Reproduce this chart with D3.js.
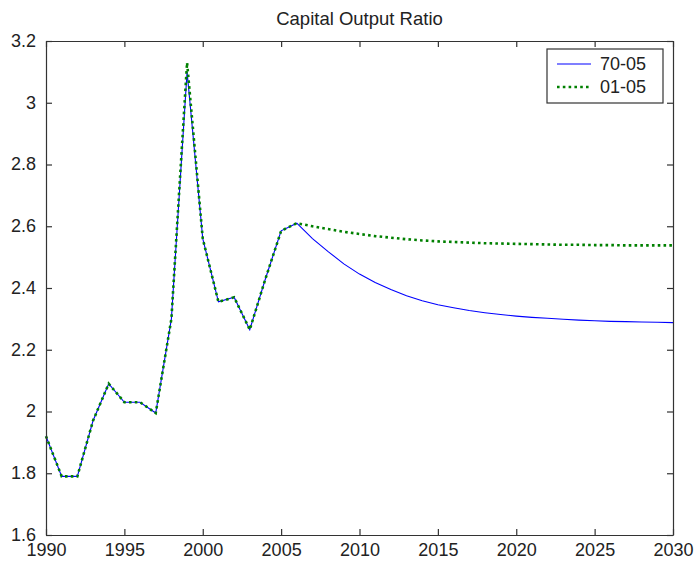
<!DOCTYPE html>
<html>
<head>
<meta charset="utf-8">
<script src="https://cdn.jsdelivr.net/npm/d3@7"></script>
<style>
  html, body { margin: 0; padding: 0; background: #fff; }
  svg { display: block; }
  text { font-family: "Liberation Sans", Arial, sans-serif; fill: #222; }
</style>
</head>
<body>
<svg id="chart" width="694" height="563"></svg>
<script>
// Capital output ratio: history 1990-2006 and two projections to 2030
const years = d3.range(1990, 2031);

const series7005 = [
  1.92, 1.79, 1.79, 1.97, 2.09, 2.03, 2.03, 1.995, 2.30, 3.10,
  2.56, 2.355, 2.37, 2.265, 2.43, 2.585, 2.61,
  2.560, 2.518, 2.478, 2.445, 2.418, 2.395, 2.375, 2.359, 2.346,
  2.336, 2.327, 2.320, 2.314, 2.309, 2.305, 2.302, 2.299, 2.296,
  2.294, 2.292, 2.291, 2.290, 2.289, 2.288
];

const series0105 = [
  1.92, 1.79, 1.79, 1.97, 2.09, 2.03, 2.03, 1.995, 2.30, 3.13,
  2.56, 2.355, 2.37, 2.265, 2.43, 2.585, 2.61,
  2.600, 2.591, 2.582, 2.575, 2.568, 2.563, 2.558, 2.554, 2.551,
  2.549, 2.547, 2.545, 2.544, 2.543, 2.542, 2.541, 2.540, 2.540,
  2.539, 2.539, 2.538, 2.538, 2.538, 2.538
];

const xTicks = [1990, 1995, 2000, 2005, 2010, 2015, 2020, 2025, 2030];
const yTicks = [1.6, 1.8, 2, 2.2, 2.4, 2.6, 2.8, 3, 3.2];
const legendLabels = ["70-05", "01-05"];
const chartTitle = "Capital Output Ratio";

const margin = { left: 46, top: 41, right: 21, bottom: 28 };
const W = 694, H = 563;
const pw = W - margin.left - margin.right;
const ph = H - margin.top - margin.bottom;

const svg = d3.select("#chart");
const g = svg.append("g").attr("transform", `translate(${margin.left},${margin.top})`);

const x = d3.scaleLinear().domain([1990, 2030]).range([0, pw]);
const y = d3.scaleLinear().domain([1.6, 3.2]).range([ph, 0]);

const axisColor = "#333";
const tickLen = 6;

// data lines
const line = d3.line().x((d, i) => x(years[i])).y(d => y(d));

g.append("path")
  .datum(series7005)
  .attr("d", line)
  .attr("fill", "none")
  .attr("stroke", "#0000ff")
  .attr("stroke-width", 1.1);

g.append("path")
  .datum(series0105)
  .attr("d", line)
  .attr("fill", "none")
  .attr("stroke", "#008000")
  .attr("stroke-width", 2.6)
  .attr("stroke-dasharray", "2.6,3.2");

// axes with inward ticks on all four sides
function styleAxis(sel) {
  sel.select(".domain").attr("stroke", axisColor).attr("stroke-width", 1.2);
  sel.selectAll(".tick line").attr("stroke", axisColor).attr("stroke-width", 1.2);
  sel.selectAll(".tick text").attr("fill", "#222").attr("font-size", 18)
    .attr("font-family", "'Liberation Sans', Arial, sans-serif");
}

const axisB = g.append("g").attr("transform", `translate(0,${ph})`)
  .call(d3.axisBottom(x).tickValues(xTicks).tickFormat(d3.format("d"))
    .tickSizeInner(-tickLen).tickSizeOuter(0).tickPadding(10));
styleAxis(axisB);
axisB.selectAll(".tick text").attr("dy", "0.62em");

const axisT = g.append("g")
  .call(d3.axisTop(x).tickValues(xTicks).tickFormat("")
    .tickSizeInner(-tickLen).tickSizeOuter(0));
styleAxis(axisT);

const axisL = g.append("g")
  .call(d3.axisLeft(y).tickValues(yTicks).tickFormat(d3.format("~g"))
    .tickSizeInner(-tickLen).tickSizeOuter(0).tickPadding(10));
styleAxis(axisL);
axisL.selectAll(".tick text").attr("dy", "0.3em");

const axisR = g.append("g").attr("transform", `translate(${pw},0)`)
  .call(d3.axisRight(y).tickValues(yTicks).tickFormat("")
    .tickSizeInner(-tickLen).tickSizeOuter(0));
styleAxis(axisR);

// title
svg.append("text")
  .attr("x", margin.left + pw / 2).attr("y", 25)
  .attr("text-anchor", "middle")
  .attr("font-size", 18.5)
  .text(chartTitle);

// legend
const lg = g.append("g").attr("transform", `translate(${pw - 126},8)`);
lg.append("rect")
  .attr("x", 0).attr("y", 0).attr("width", 116).attr("height", 54)
  .attr("fill", "#fff").attr("stroke", axisColor).attr("stroke-width", 1.2);

const legendStyles = [
  { stroke: "#0000ff", width: 1.1, dash: null },
  { stroke: "#008000", width: 2.6, dash: "2.6,3.2" }
];
legendLabels.forEach((lab, i) => {
  const yy = 15 + i * 23;
  lg.append("line")
    .attr("x1", 10).attr("x2", 44).attr("y1", yy).attr("y2", yy)
    .attr("stroke", legendStyles[i].stroke)
    .attr("stroke-width", legendStyles[i].width)
    .attr("stroke-dasharray", legendStyles[i].dash);
  lg.append("text")
    .attr("x", 53).attr("y", yy).attr("dy", "0.35em")
    .attr("font-size", 18)
    .text(lab);
});
</script>
</body>
</html>
